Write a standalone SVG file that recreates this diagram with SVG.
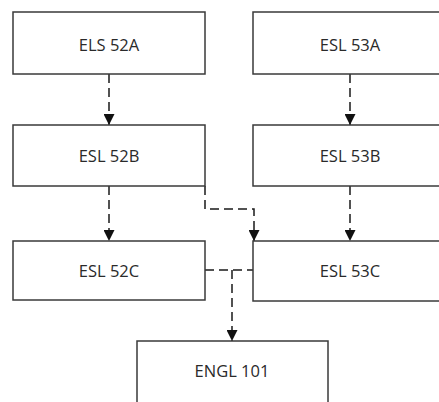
<svg xmlns="http://www.w3.org/2000/svg" width="439" height="402" viewBox="0 0 439 402">
<defs>
<style>
.box{fill:#ffffff;stroke:#3a3a3a;stroke-width:1.5}
.lbl{font-family:"Open Sans","Liberation Sans",sans-serif;font-size:16.5px;fill:#2a2a2a;text-anchor:middle}
.con{fill:none;stroke:#1a1a1a;stroke-width:1.5;stroke-dasharray:9,5}
</style>
<marker id="ah" viewBox="0 0 10 10" refX="10" refY="5" markerWidth="12" markerHeight="11" markerUnits="userSpaceOnUse" orient="auto">
<path d="M0,0 L10,5 L0,10 Z" fill="#111"/>
</marker>
</defs>
<rect width="439" height="402" fill="#ffffff"/>
<g id="connectors">
<path class="con" d="M109,74 V125" marker-end="url(#ah)"/>
<path class="con" d="M350,74 V125" marker-end="url(#ah)"/>
<path class="con" d="M109,186 V241" marker-end="url(#ah)"/>
<path class="con" d="M350,186 V241" marker-end="url(#ah)"/>
<path class="con" d="M205,186 V209 H254 V241" marker-end="url(#ah)"/>
<path class="con" d="M205,270 H253"/>
<path class="con" d="M232,270 V341" marker-end="url(#ah)"/>
</g>
<g id="n52A"><rect class="box" x="13" y="12" width="192" height="62"/><text class="lbl" x="109" y="51">ELS 52A</text></g>
<g id="n53A"><rect class="box" x="253" y="12" width="200" height="62"/><text class="lbl" x="350" y="51">ESL 53A</text></g>
<g id="n52B"><rect class="box" x="13" y="125" width="192" height="61"/><text class="lbl" x="109" y="162">ESL 52B</text></g>
<g id="n53B"><rect class="box" x="253" y="125" width="200" height="61"/><text class="lbl" x="350" y="162">ESL 53B</text></g>
<g id="n52C"><rect class="box" x="13" y="241" width="192" height="59"/><text class="lbl" x="109" y="277">ESL 52C</text></g>
<g id="n53C"><rect class="box" x="253" y="241" width="200" height="60"/><text class="lbl" x="350" y="277">ESL 53C</text></g>
<g id="nENGL"><rect class="box" x="137" y="341" width="191" height="80"/><text class="lbl" x="232" y="377">ENGL 101</text></g>
</svg>
